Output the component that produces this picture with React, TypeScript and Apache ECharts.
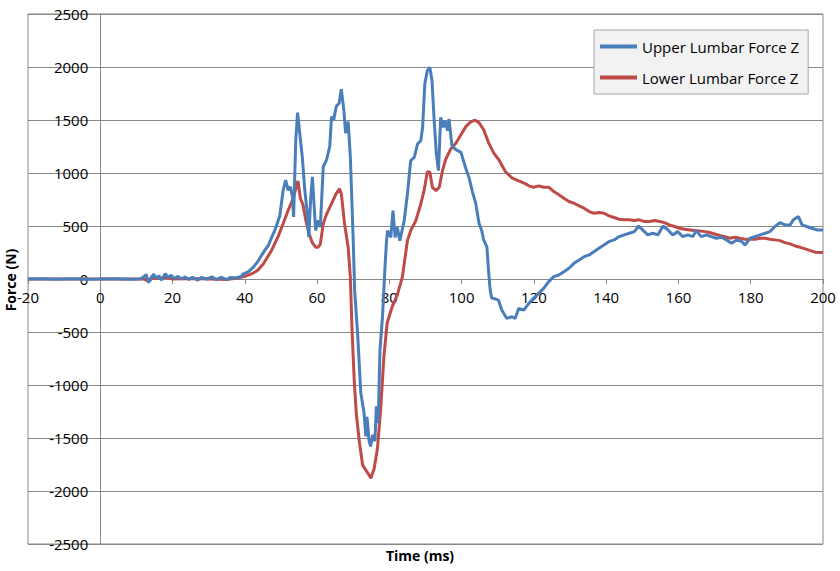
import React, { useEffect, useRef } from "react";
import * as echarts from "echarts";

const seriesNames = ["Upper Lumbar Force Z", "Lower Lumbar Force Z"];
const xTicks = { min: -20, max: 200, interval: 20 };
const yTicks = { min: -2500, max: 2500, interval: 500 };

const upperT = [
  -20, -16, -12, -8, -4, 0, 4, 8, 11, 12, 12.7, 13.4, 14, 14.8, 15.5, 16.2, 17, 18, 18.8, 19.6, 20.5, 21.5,
  22.5, 23.5, 24.5, 25.5, 27, 28, 29.5, 31, 32, 33.5, 35, 36, 37.5, 39, 39.5, 41, 42.3, 43.5, 44.6, 45.5,
  46.5, 47.4, 48.3, 49.7, 50.6, 51.3, 52, 52.6, 53.2, 53.5, 54.1, 54.6, 55.2, 55.9, 56.6, 57.2, 57.7, 58.2,
  58.7, 59.2, 59.6, 60.3, 60.9, 61.7, 62.6, 63.5, 64, 64.6, 65.3, 66.1, 66.7, 67.4, 67.9, 68.6, 69.2, 70,
  70.4, 71.2, 72.1, 73, 73.5, 73.8, 74.4, 74.8, 75.4, 76, 76.4, 76.9, 77.4, 78.1, 78.8, 79.2, 79.5, 80.4,
  81, 81.6, 82.2, 82.9, 83.5, 84.1, 85, 85.9, 86.9, 87.8, 88.7, 89.2, 89.8, 90.5, 91.2, 91.8, 92.4, 93,
  93.6, 94.2, 94.9, 95.4, 96.1, 96.5, 97.3, 98.4, 99.8, 101.1, 102.1, 103, 103.9, 104.8, 105.5, 106.1, 107,
  107.5, 107.9, 108.3, 108.8, 110.2, 111.1, 112.5, 113.9, 114.8, 115.8, 117.2, 118.6, 119.9, 121.3, 122.7,
  124.1, 125.5, 126.9, 128.3, 129.7, 131.1, 132.5, 133.9, 135.3, 136.6, 138, 139.4, 140.8, 142.2, 143.6,
  145, 146.4, 147.8, 149, 150.1, 151.5, 152.9, 154.3, 155.7, 157.1, 158.4, 159.8, 161.2, 162.6, 164, 164.9,
  166.3, 167.7, 169.1, 170.5, 171.9, 173.3, 174.7, 176.1, 177.5, 178.4, 179.8, 181.2, 182.6, 184, 185.3,
  186.7, 188.1, 189.5, 190.9, 191.8, 193.2, 194.2, 195.5, 196.9, 198.3, 200,
];
const upperF = [
  0, 3, -3, 2, -2, 0, 3, -2, 0, 20, 40, -35, 10, 45, 5, 30, -10, 50, 15, 35, 5, 25,
  0, 20, -5, 15, -10, 15, 0, 20, -5, 15, -5, 15, 10, 25, 47, 70, 110, 160, 221, 270,
  316, 390, 458, 600, 837, 932, 837, 869, 774, 585, 1311, 1570, 1375, 1153, 837, 648, 395, 743,
  964, 679, 458, 553, 490, 1059, 1122, 1248, 1533, 1501, 1627, 1659, 1790, 1596, 1375, 1485, 1153, 363,
  -110, -510, -1075, -1265, -1485, -1300, -1530, -1580, -1470, -1530, -1200, -1360, -670, -355, 120, 350, 456, 393,
  645, 393, 487, 362, 456, 550, 802, 1116, 1148, 1274, 1305, 1431, 1840, 1966, 1997, 1871, 1494, 1180,
  1022, 1525, 1431, 1494, 1400, 1510, 1260, 1220, 1195, 1050, 950, 820, 715, 526, 463, 369, 300,
  54, -104, -180, -183, -200, -293, -372, -356, -372, -277, -293, -230, -183, -135, -88,
  -25, 22, 38, 69, 101, 148, 180, 211, 227, 258, 290, 321, 353, 369, 400,
  416, 432, 447, 500, 463, 416, 432, 416, 500, 463, 416, 447, 400, 416, 400, 457,
  400, 416, 400, 384, 394, 369, 337, 369, 353, 321, 384, 400, 416, 432, 447,
  495, 532, 510, 510, 558, 589, 510, 495, 479, 463, 463,
];

const lowerT = [
  -20, -10, 0, 10, 12, 13.5, 14.5, 16, 18, 20, 25, 30, 35, 38, 40, 42, 43.5, 45.1, 47.4, 49.2, 50.6, 52,
  53.4, 54.1, 54.7, 55.4, 56.1, 56.9, 57.8, 58.7, 59.6, 60.3, 60.9, 61.7, 62.6, 64, 65.2, 66.2, 66.7, 67.6,
  68.6, 69.2, 69.7, 70.3, 70.9, 71.7, 72.6, 73.5, 74.4, 74.9, 75.8, 76.7, 77.6, 78.5, 79.4, 80.8, 82.2,
  83.6, 85, 85.9, 87.3, 88.7, 89.6, 90.5, 91.2, 91.9, 92.9, 93.8, 94.7, 95.6, 97, 98.4, 99.8, 101.2, 102.5,
  103.7, 104.8, 106.1, 107.5, 108.9, 110.3, 112.1, 113.9, 115.8, 117.6, 118.6, 119.9, 121.3, 122.7, 124.1,
  125.5, 126.9, 128.3, 129.7, 131.1, 132.5, 133.9, 135.3, 136.6, 138, 139.4, 140.8, 142.2, 143.6, 145,
  146.4, 147.8, 149.2, 150.6, 152, 153.4, 154.8, 156.1, 157.5, 158.9, 160.3, 161.7, 163.1, 164.5, 165.9,
  167.3, 168.6, 170, 171.4, 172.8, 174.2, 175.6, 177, 178.4, 179.8, 181.2, 182.6, 184, 185.3, 186.7, 188.1,
  189.5, 190.9, 192.3, 193.7, 195.1, 196.5, 197.9, 199.3, 200,
];
const lowerF = [
  0, 0, 0, 0, 0, -20, 10, 5, 15, 0, 5, 0, -5, 10, 25, 50, 80, 142, 269, 400, 521, 648,
  760, 850, 925, 760, 700, 550, 427, 340, 300, 300, 330, 520, 610, 711, 800, 850, 806, 520,
  300, 16, -506, -975, -1288, -1538, -1756, -1803, -1850, -1881, -1788, -1600, -1225, -725, -413, -260, -150,
  20, 362, 456, 550, 708, 833, 1010, 1010, 865, 833, 865, 1022, 1130, 1227, 1280, 1360, 1440, 1482,
  1498, 1475, 1408, 1282, 1188, 1125, 1014, 955, 925, 900, 879, 866, 879, 866, 866,
  825, 794, 762, 731, 715, 690, 668, 636, 620, 627, 620, 595, 580, 564, 558,
  558, 551, 558, 542, 542, 551, 542, 532, 510, 495, 479, 469, 463, 457, 454,
  447, 438, 425, 410, 400, 384, 394, 384, 375, 375, 375, 384, 384, 375, 369, 362,
  343, 331, 312, 299, 284, 268, 252, 249, 249,
];

const FONT = "'Open Sans', 'Noto Sans', sans-serif";
const GRAY = "#878787";
const GRID = { left: 28, right: 17, top: 14, bottom: 27, width: 840 - 28 - 17, height: 571 - 14 - 27 };

export default function App() {
  const ref = useRef<HTMLDivElement>(null);
  useEffect(() => {
    if (!ref.current) return;
    const chart = echarts.init(ref.current, null, { renderer: "svg" });
    const upper = upperT.map((t, i) => [t, upperF[i]]);
    const lower = lowerT.map((t, i) => [t, lowerF[i]]);
    // place axes at the zero of the other axis (as in the original chart)
    const yAxisOffset = -((0 - xTicks.min) / (xTicks.max - xTicks.min)) * GRID.width;
    const xAxisOffset = -((0 - yTicks.min) / (yTicks.max - yTicks.min)) * GRID.height;
    chart.setOption({
      animation: false,
      backgroundColor: "#ffffff",
      grid: {
        left: GRID.left,
        right: GRID.right,
        top: GRID.top,
        bottom: GRID.bottom,
        show: true,
        borderColor: GRAY,
        borderWidth: 1,
        containLabel: false,
        outerBoundsMode: "none",
      },
      legend: {
        data: seriesNames,
        orient: "vertical",
        left: 594,
        top: 30,
        padding: [8, 9, 8, 6],
        itemGap: 14,
        itemWidth: 37,
        itemHeight: 4,
        icon: "rect",
        backgroundColor: "#f2f2f2",
        borderColor: "#a6a6a6",
        borderWidth: 1,
        textStyle: { fontFamily: FONT, fontSize: 15, color: "#000", lineHeight: 17 },
      },
      xAxis: {
        type: "value",
        min: xTicks.min,
        max: xTicks.max,
        interval: xTicks.interval,
        position: "bottom",
        offset: xAxisOffset,
        axisLine: { onZero: false, lineStyle: { color: GRAY, width: 1 } },
        axisTick: { show: true, length: 5, lineStyle: { color: GRAY } },
        axisLabel: {
          fontFamily: FONT,
          fontSize: 15,
          color: "#000",
          margin: 10,
          formatter: (v: number) => String(v),
        },
        splitLine: { show: false },
      },
      yAxis: {
        type: "value",
        min: yTicks.min,
        max: yTicks.max,
        interval: yTicks.interval,
        position: "left",
        offset: yAxisOffset,
        axisLine: { show: true, onZero: false, lineStyle: { color: GRAY, width: 1 } },
        axisTick: { show: true, length: 5, lineStyle: { color: GRAY } },
        axisLabel: {
          fontFamily: FONT,
          fontSize: 15,
          color: "#000",
          margin: 12,
          formatter: (v: number) => String(v),
        },
        splitLine: { show: true, lineStyle: { color: GRAY, width: 1 } },
      },
      graphic: [
        {
          type: "text",
          left: "center",
          top: 548,
          style: { text: "Time (ms)", font: `bold 14px ${FONT}`, fill: "#000" },
        },
        {
          type: "text",
          x: 10,
          y: 280,
          rotation: Math.PI / 2,
          style: {
            text: "Force (N)",
            font: `bold 14px ${FONT}`,
            fill: "#000",
            align: "center",
            verticalAlign: "middle",
          },
        },
      ],
      series: [
        {
          name: seriesNames[0],
          type: "line",
          data: upper,
          showSymbol: false,
          lineStyle: { color: "#4a7ebb", width: 3 },
          itemStyle: { color: "#4a7ebb" },
          z: 3,
        },
        {
          name: seriesNames[1],
          type: "line",
          data: lower,
          showSymbol: false,
          lineStyle: { color: "#be4b48", width: 3 },
          itemStyle: { color: "#be4b48" },
          z: 2,
        },
      ],
    });
    return () => chart.dispose();
  }, []);
  return <div ref={ref} style={{ width: 840, height: 571, position: "absolute", left: 0, top: 0 }} />;
}
